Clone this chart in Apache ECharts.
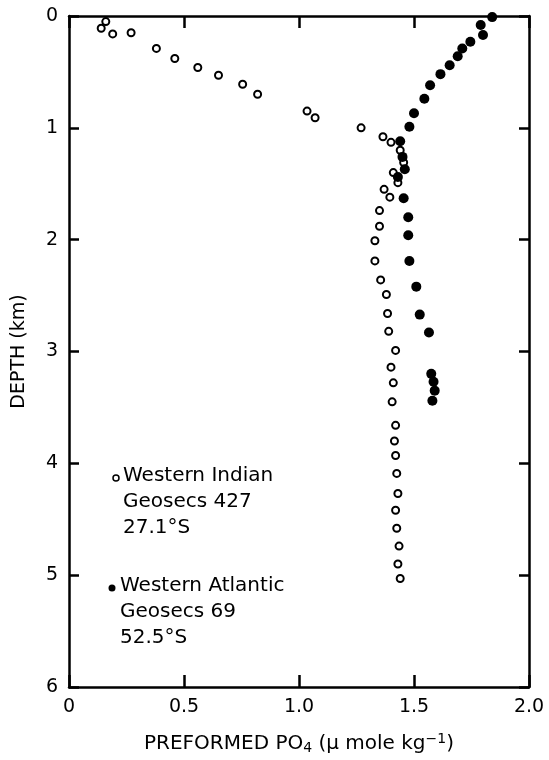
<!DOCTYPE html>
<html>
<head>
<meta charset="utf-8">
<script src="https://cdn.jsdelivr.net/npm/echarts@6/dist/echarts.min.js"></script>
<style>
  html, body { margin: 0; padding: 0; background: #fff; }
  #chart { width: 549px; height: 760px; }
</style>
</head>
<body>
<div id="chart"></div>
<script>
// Western Indian, Geosecs 427 (open circles)
var indianPO4 = [0.16, 0.14, 0.19, 0.27, 0.38, 0.46, 0.56, 0.65, 0.755, 0.82, 1.035, 1.07, 1.27, 1.365, 1.40, 1.44, 1.455, 1.41, 1.43, 1.37, 1.395, 1.35, 1.35, 1.33, 1.33, 1.355, 1.38, 1.385, 1.39, 1.42, 1.40, 1.41, 1.405, 1.42, 1.415, 1.42, 1.425, 1.43, 1.42, 1.425, 1.435, 1.43, 1.44];
var indianDepth = [0.05, 0.11, 0.16, 0.15, 0.29, 0.38, 0.46, 0.53, 0.61, 0.70, 0.85, 0.91, 1.00, 1.08, 1.13, 1.20, 1.31, 1.40, 1.49, 1.55, 1.62, 1.74, 1.88, 2.01, 2.19, 2.36, 2.49, 2.66, 2.82, 2.99, 3.14, 3.28, 3.45, 3.66, 3.80, 3.93, 4.09, 4.27, 4.42, 4.58, 4.74, 4.90, 5.03];

// Western Atlantic, Geosecs 69 (filled circles)
var atlanticPO4 = [1.84, 1.79, 1.80, 1.745, 1.71, 1.69, 1.655, 1.615, 1.57, 1.545, 1.50, 1.48, 1.44, 1.45, 1.46, 1.43, 1.455, 1.475, 1.475, 1.48, 1.51, 1.525, 1.565, 1.575, 1.585, 1.59, 1.58];
var atlanticDepth = [0.01, 0.08, 0.17, 0.23, 0.29, 0.36, 0.44, 0.52, 0.62, 0.74, 0.87, 0.99, 1.12, 1.26, 1.37, 1.44, 1.63, 1.80, 1.96, 2.19, 2.42, 2.67, 2.83, 3.20, 3.27, 3.35, 3.44];

var xTicks = ['0', '0.5', '1.0', '1.5', '2.0'];
var yTicks = ['0', '1', '2', '3', '4', '5', '6'];

var FONT = 'DejaVu Sans';
var LEGEND_FONT = '20px "DejaVu Sans"';

function pairs(xs, ys) {
    var out = [];
    for (var i = 0; i < xs.length; i++) out.push([xs[i], ys[i]]);
    return out;
}

var axisLine = { show: true, onZero: false, lineStyle: { color: '#000', width: 2.5 } };
var tickStyle = { color: '#000', width: 2.5 };

var chart = echarts.init(document.getElementById('chart'));

var option = {
    animation: false,
    backgroundColor: '#fff',
    grid: { left: 69, top: 16, width: 460, height: 674 },
    xAxis: [{
        type: 'value', position: 'bottom', min: 0, max: 2, interval: 0.5,
        axisLine: axisLine,
        axisTick: { inside: true, length: 12, lineStyle: tickStyle },
        axisLabel: {
            color: '#000', fontFamily: FONT, fontSize: 19, margin: 11,
            formatter: function (v) { return xTicks[Math.round(v / 0.5)]; }
        },
        splitLine: { show: false },
        name: '{t|PREFORMED PO}{s|4}{t| (\u03bc mole kg}{p|\u22121}{t|)}',
        nameLocation: 'middle', nameGap: 45,
        nameTextStyle: {
            rich: {
                t: { fontFamily: FONT, fontSize: 20, color: '#000' },
                s: { fontFamily: FONT, fontSize: 14, color: '#000', verticalAlign: 'bottom', padding: [9, 0, 0, 0] },
                p: { fontFamily: FONT, fontSize: 14, color: '#000', verticalAlign: 'top', padding: [0, 0, 9, 0] }
            }
        }
    }, {
        type: 'value', position: 'top', min: 0, max: 2, interval: 0.5,
        axisLine: axisLine,
        axisTick: { inside: true, length: 12, lineStyle: tickStyle },
        axisLabel: { show: false },
        splitLine: { show: false }
    }],
    yAxis: [{
        type: 'value', position: 'left', inverse: true, min: 0, max: 6, interval: 1,
        axisLine: axisLine,
        axisTick: { inside: true, length: 10, lineStyle: tickStyle },
        axisLabel: {
            color: '#000', fontFamily: FONT, fontSize: 19, margin: 11,
            formatter: function (v) { return yTicks[Math.round(v)]; }
        },
        splitLine: { show: false },
        name: 'DEPTH (km)', nameLocation: 'middle', nameGap: 40,
        nameTextStyle: { color: '#000', fontFamily: FONT, fontSize: 19 }
    }, {
        type: 'value', position: 'right', inverse: true, min: 0, max: 6, interval: 1,
        axisLine: axisLine,
        axisTick: { inside: true, length: 10, lineStyle: tickStyle },
        axisLabel: { show: false },
        splitLine: { show: false }
    }],
    series: [{
        name: 'Western Indian',
        type: 'scatter',
        data: pairs(indianPO4, indianDepth),
        symbol: 'circle', symbolSize: 7,
        itemStyle: { color: '#fff', borderColor: '#000', borderWidth: 2, opacity: 1 }
    }, {
        name: 'Western Atlantic',
        type: 'scatter',
        data: pairs(atlanticPO4, atlanticDepth),
        symbol: 'circle', symbolSize: 10,
        itemStyle: { color: '#000', opacity: 1 }
    }],
    graphic: [
        { type: 'circle', shape: { cx: 116, cy: 478, r: 3 }, style: { fill: '#fff', stroke: '#000', lineWidth: 1.5 } },
        { type: 'text', left: 123, top: 466, style: { text: 'Western Indian', font: LEGEND_FONT, fill: '#000' } },
        { type: 'text', left: 123, top: 492, style: { text: 'Geosecs 427', font: LEGEND_FONT, fill: '#000' } },
        { type: 'text', left: 123, top: 518, style: { text: '27.1\u00b0S', font: LEGEND_FONT, fill: '#000' } },
        { type: 'circle', shape: { cx: 112, cy: 588, r: 3.5 }, style: { fill: '#000' } },
        { type: 'text', left: 120, top: 576, style: { text: 'Western Atlantic', font: LEGEND_FONT, fill: '#000' } },
        { type: 'text', left: 120, top: 602, style: { text: 'Geosecs 69', font: LEGEND_FONT, fill: '#000' } },
        { type: 'text', left: 120, top: 628, style: { text: '52.5\u00b0S', font: LEGEND_FONT, fill: '#000' } }
    ]
};

chart.setOption(option);
</script>
</body>
</html>
